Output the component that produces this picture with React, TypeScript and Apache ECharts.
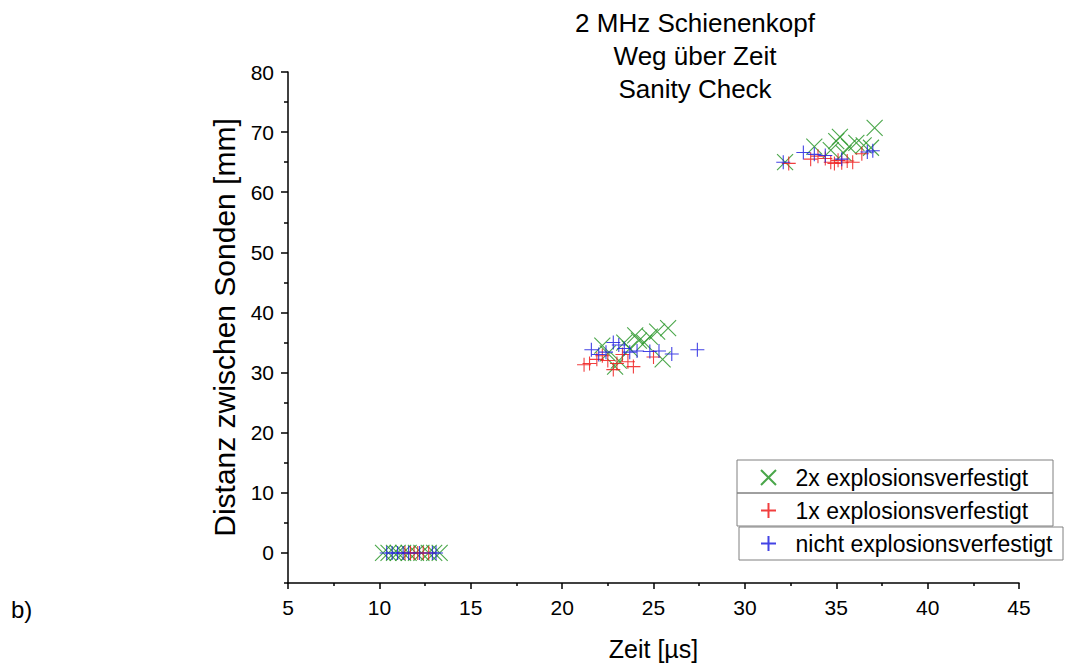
import React, { useEffect, useRef } from "react";
import * as echarts from "echarts";

const FONT = "'Liberation Sans', Arial, sans-serif";

const seriesNames = ["2x explosionsverfestigt", "1x explosionsverfestigt", "nicht explosionsverfestigt"];

const zeit2x = [10.2, 10.5, 10.8, 11.0, 11.3, 11.6, 12.0, 12.3, 12.7, 13.0, 13.3,
  22.2, 22.5, 22.9, 23.1, 23.4, 23.7, 24.0, 24.2, 24.5, 24.8, 25.2, 25.5, 25.8,
  32.2, 33.8, 34.7, 35.0, 35.2, 35.4, 35.7, 36.1, 36.5, 36.9, 37.1];
const dist2x = [0, 0, 0, 0, 0, 0, 0, 0, 0, 0, 0,
  34.5, 33.2, 31.0, 32.0, 35.0, 34.0, 36.2, 35.3, 35.0, 36.0, 36.8, 32.2, 37.4,
  65.0, 67.6, 67.0, 68.5, 69.2, 66.5, 67.6, 68.2, 67.8, 67.4, 70.7];

const zeit1x = [11.4, 11.7, 11.9, 12.1, 12.4, 12.7,
  21.2, 21.5, 21.9, 22.2, 22.5, 22.8, 23.0, 23.3, 23.6, 23.9, 25.0,
  32.4, 33.6, 34.0, 34.4, 34.7, 34.9, 35.1, 35.3, 35.6, 35.9, 36.4];
const dist1x = [0, 0, 0, 0, 0, 0,
  31.3, 31.5, 32.2, 32.8, 32.0, 30.5, 31.5, 33.0, 31.8, 31.0, 32.6,
  64.8, 65.5, 66.0, 65.6, 65.0, 64.8, 65.3, 64.9, 65.2, 65.0, 66.4];

const zeitNicht = [10.4, 10.7, 11.0, 11.3, 11.6, 12.2, 12.9, 13.1,
  21.6, 22.0, 22.4, 22.8, 23.1, 23.4, 23.7, 24.1, 24.8, 25.3, 26.0, 27.4,
  32.1, 33.2, 33.8, 34.4, 35.3, 36.7, 37.0];
const distNicht = [0, 0, 0, 0, 0, 0, 0, 0,
  33.8, 33.0, 33.4, 35.0, 34.6, 34.0, 33.4, 33.6, 33.5, 33.6, 33.1, 33.8,
  65.0, 66.6, 66.3, 66.1, 65.5, 66.7, 66.9];

const yMajorTicks = [0, 10, 20, 30, 40, 50, 60, 70, 80];
const yMinorTicks = [-5, 5, 15, 25, 35, 45, 55, 65, 75];

const titleLines = ["2 MHz Schienenkopf", "Weg über Zeit", "Sanity Check"];

const CROSS = "path://M0,0L10,10M10,0L0,10";
const PLUS = "path://M5,0L5,10M0,5L10,5";
const colors = ["#2a962a", "#ee1c1c", "#2222e0"];

function pairs(xs: number[], ys: number[]) {
  return xs.map((x, i) => [x, ys[i]]);
}

export default function App() {
  const ref = useRef<HTMLDivElement>(null);
  useEffect(() => {
    if (!ref.current) return;
    const chart = echarts.init(ref.current, undefined, { renderer: "svg" });
    const mk = (name: string, sym: string, size: number, color: string, xs: number[], ys: number[]) => ({
      type: "scatter",
      name,
      data: pairs(xs, ys),
      symbol: sym,
      symbolSize: size,
      symbolKeepAspect: true,
      itemStyle: { color, borderColor: color, borderWidth: 1.1, opacity: 0.85 },
      xAxisIndex: 0,
      yAxisIndex: 0,
    });
    chart.setOption({
      animation: false,
      backgroundColor: "#ffffff",
      textStyle: { fontFamily: FONT },
      title: {
        text: titleLines.join("\n"),
        left: 690,
        top: 1,
        textAlign: "center",
        textStyle: { fontFamily: FONT, fontSize: 26, fontWeight: "normal", color: "#000", lineHeight: 33 },
      },
      grid: { left: 288, right: 54, top: 72, bottom: 83, containLabel: false },
      legend: {
        orient: "vertical",
        left: 755,
        top: 461,
        itemWidth: 44,
        itemHeight: 15,
        itemGap: 10,
        data: seriesNames,
        textStyle: { fontFamily: FONT, fontSize: 23, color: "#000" },
      },
      xAxis: {
        type: "value",
        min: 5,
        max: 45,
        interval: 5,
        name: "Zeit [µs]",
        nameLocation: "middle",
        nameGap: 53,
        nameTextStyle: { fontFamily: FONT, fontSize: 25, color: "#000" },
        axisLine: { show: true, onZero: false, lineStyle: { color: "#000", width: 1.5 } },
        axisTick: { show: true, length: 6, lineStyle: { color: "#000", width: 1.5 } },
        minorTick: { show: true, splitNumber: 2, length: 3, lineStyle: { color: "#000", width: 1.5 } },
        axisLabel: { fontFamily: FONT, fontSize: 21, color: "#000", margin: 14 },
        splitLine: { show: false },
      },
      yAxis: [
        {
          type: "value",
          min: -5,
          max: 80,
          name: "Distanz zwischen Sonden [mm]",
          nameLocation: "middle",
          nameGap: 40,
          nameTextStyle: { fontFamily: FONT, fontSize: 30, color: "#000" },
          axisLine: { show: true, onZero: false, lineStyle: { color: "#000", width: 1.5 } },
          axisTick: { show: true, length: 7, customValues: yMajorTicks, lineStyle: { color: "#000", width: 1.5 } },
          axisLabel: { fontFamily: FONT, fontSize: 21, color: "#000", margin: 14, customValues: yMajorTicks },
          splitLine: { show: false },
        },
        {
          type: "value",
          min: -5,
          max: 80,
          position: "left",
          axisLine: { show: false },
          axisTick: { show: true, length: 4, customValues: yMinorTicks, lineStyle: { color: "#000", width: 1.5 } },
          axisLabel: { show: false },
          splitLine: { show: false },
        },
      ],
      graphic: [
        { type: "rect", shape: { x: 737, y: 460, width: 316, height: 33 }, style: { fill: "none", stroke: "#808080", lineWidth: 1 }, z: 100 },
        { type: "rect", shape: { x: 737, y: 493, width: 316, height: 33 }, style: { fill: "none", stroke: "#808080", lineWidth: 1 }, z: 100 },
        { type: "rect", shape: { x: 739, y: 527, width: 324, height: 33 }, style: { fill: "none", stroke: "#808080", lineWidth: 1 }, z: 100 },
        { type: "text", left: 11, top: 597, style: { text: "b)", fontFamily: FONT, fontSize: 24, fill: "#000" } },
      ],
      series: [
        mk(seriesNames[0], CROSS, 16, colors[0], zeit2x, dist2x),
        mk(seriesNames[1], PLUS, 14, colors[1], zeit1x, dist1x),
        mk(seriesNames[2], PLUS, 14, colors[2], zeitNicht, distNicht),
      ],
    });
    return () => chart.dispose();
  }, []);
  return <div ref={ref} style={{ position: "fixed", left: 0, top: 0, width: 1073, height: 666 }} />;
}
